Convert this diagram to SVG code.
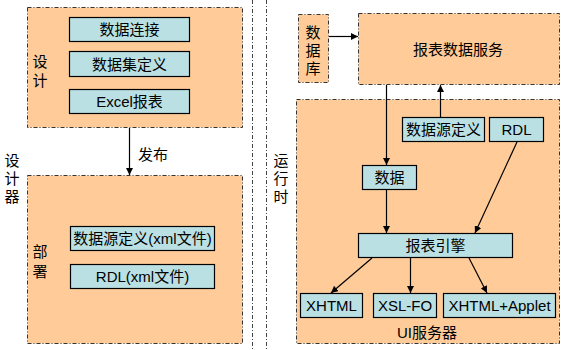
<svg xmlns="http://www.w3.org/2000/svg" width="569" height="350" viewBox="0 0 569 350">
<style>
.grp{fill:#FFCC99;stroke:#333;stroke-width:1;stroke-dasharray:4 2 1 2}
.box{fill:#BBE0E3;stroke:#000;stroke-width:1.2}
.sep{fill:none;stroke:#444;stroke-width:1;stroke-dasharray:4 2 1 2}
text{font-family:"Liberation Sans","Noto Sans CJK SC",sans-serif;font-size:15px;fill:#000}
.c{text-anchor:middle;dominant-baseline:central}
.ln{fill:none;stroke:#000;stroke-width:1.2}
</style>
<defs>
<marker id="ah" viewBox="0 0 10 10" refX="10" refY="5" markerWidth="7" markerHeight="7" markerUnits="userSpaceOnUse" orient="auto">
<path d="M0,0 L10,5 L0,10 z" fill="#000"/>
</marker>
</defs>
<rect width="569" height="350" fill="#fff"/>
<g id="separators">
<line class="sep" x1="252.5" y1="0" x2="252.5" y2="350"/>
<line class="sep" x1="266.5" y1="0" x2="266.5" y2="350"/>
</g>
<g id="label-designer">
<text class="c" x="12" y="160">设</text>
<text class="c" x="12" y="178">计</text>
<text class="c" x="12" y="196">器</text>
</g>
<g id="label-runtime">
<text class="c" x="281" y="160">运</text>
<text class="c" x="281" y="178">行</text>
<text class="c" x="281" y="196">时</text>
</g>
<g id="design">
<rect class="grp" x="27.5" y="7.5" width="215" height="120"/>
<text class="c" x="40" y="61">设</text>
<text class="c" x="40" y="80">计</text>
</g>
<g id="n-conn"><rect class="box" x="69.5" y="17.5" width="120" height="24"/><text class="c" x="129.5" y="29.5">数据连接</text></g>
<g id="n-dataset"><rect class="box" x="69.5" y="51.5" width="120" height="25"/><text class="c" x="129.5" y="64">数据集定义</text></g>
<g id="n-excel"><rect class="box" x="69.5" y="89.5" width="120" height="24"/><text class="c" x="129.5" y="101.5">Excel报表</text></g>
<g id="deploy">
<rect class="grp" x="27.5" y="175.5" width="215" height="168"/>
<text class="c" x="40" y="251">部</text>
<text class="c" x="40" y="271">署</text>
</g>
<g id="n-dsxml"><rect class="box" x="70.5" y="226.5" width="144" height="24"/><text class="c" x="142.5" y="238.5">数据源定义(xml文件)</text></g>
<g id="n-rdlxml"><rect class="box" x="70.5" y="264.5" width="144" height="24"/><text class="c" x="142.5" y="276.5">RDL(xml文件)</text></g>
<g id="n-db">
<rect class="grp" x="298.5" y="14.5" width="30" height="68"/>
<text class="c" x="313" y="32">数</text>
<text class="c" x="313" y="50">据</text>
<text class="c" x="313" y="68">库</text>
</g>
<g id="n-rds">
<rect class="grp" x="358.5" y="13.5" width="201" height="71"/>
<text class="c" x="458" y="49">报表数据服务</text>
</g>
<g id="ui">
<rect class="grp" x="296.5" y="99.5" width="263" height="244"/>
<text class="c" x="427" y="332">UI服务器</text>
</g>
<g id="n-ds"><rect class="box" x="402.5" y="117.5" width="82" height="24"/><text class="c" x="443.5" y="129.5">数据源定义</text></g>
<g id="n-rdl"><rect class="box" x="489.5" y="117.5" width="54" height="24"/><text class="c" x="516.5" y="129.5">RDL</text></g>
<g id="n-data"><rect class="box" x="362.5" y="165.5" width="54" height="24"/><text class="c" x="389.5" y="177.5">数据</text></g>
<g id="n-engine"><rect class="box" x="358.5" y="233.5" width="154" height="24"/><text class="c" x="435.5" y="245.5">报表引擎</text></g>
<g id="n-xhtml"><rect class="box" x="300.5" y="293.5" width="62" height="24"/><text class="c" x="331.5" y="305.5">XHTML</text></g>
<g id="n-xslfo"><rect class="box" x="373.5" y="293.5" width="63" height="24"/><text class="c" x="405" y="305.5">XSL-FO</text></g>
<g id="n-applet"><rect class="box" x="443.5" y="293.5" width="112" height="24"/><text class="c" x="499.5" y="305.5">XHTML+Applet</text></g>
<g id="connectors">
<line class="ln" x1="129.5" y1="128" x2="129.5" y2="175" marker-end="url(#ah)"/>
<text x="138" y="160">发布</text>
<line class="ln" x1="329" y1="36.5" x2="358" y2="36.5" marker-end="url(#ah)"/>
<line class="ln" x1="440.5" y1="117" x2="440.5" y2="85" marker-end="url(#ah)"/>
<line class="ln" x1="386.5" y1="85" x2="386.5" y2="165" marker-end="url(#ah)"/>
<line class="ln" x1="386.5" y1="190" x2="386.5" y2="233" marker-end="url(#ah)"/>
<line class="ln" x1="517" y1="142" x2="475" y2="233" marker-end="url(#ah)"/>
<line class="ln" x1="372" y1="258" x2="331" y2="293" marker-end="url(#ah)"/>
<line class="ln" x1="410.5" y1="258" x2="410.5" y2="293" marker-end="url(#ah)"/>
<line class="ln" x1="469" y1="258" x2="487" y2="293" marker-end="url(#ah)"/>
</g>
</svg>
